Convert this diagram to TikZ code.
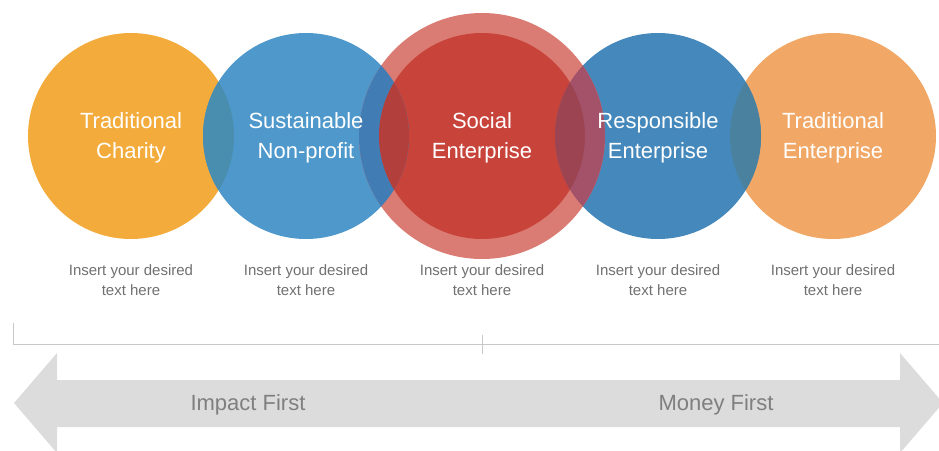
\documentclass[tikz,border=0pt]{standalone}
\usepackage{fontspec}
\setmainfont{Liberation Sans}
\definecolor{orangeA}{HTML}{F3AC3C}
\definecolor{blueA}{HTML}{4E98CB}
\definecolor{redcore}{HTML}{C8443B}
\definecolor{redring}{HTML}{DA7C74}
\definecolor{blueB}{HTML}{4488BC}
\definecolor{orangeB}{HTML}{F1A866}
\definecolor{lensOA}{HTML}{4A8EAF}
\definecolor{lensBAring}{HTML}{417DB4}
\definecolor{lensBAcore}{HTML}{B33F3D}
\definecolor{lensBBring}{HTML}{A4526A}
\definecolor{lensBBcore}{HTML}{9C4452}
\definecolor{lensOB}{HTML}{4A819F}
\definecolor{notegray}{HTML}{707070}
\definecolor{linegray}{HTML}{C8C8C8}
\definecolor{arrowgray}{HTML}{DCDCDC}
\definecolor{arrowtext}{HTML}{7F7F7F}
\begin{document}
\begin{tikzpicture}[x=1pt,y=-1pt,
  title/.style={text=white, align=center, font=\fontsize{22}{30}\selectfont},
  note/.style={text=notegray, align=center, font=\fontsize{15}{20}\selectfont},
  arrowlabel/.style={text=arrowtext, font=\fontsize{22}{26}\selectfont},
  bracketline/.style={draw=linegray, line width=1pt}]
\useasboundingbox (0,0) rectangle (939,450);
\clip (0,0) rectangle (939,450);
\def\rr{103pt}
\coordinate (c1) at (131,136);
\coordinate (c2) at (306,136);
\coordinate (c3) at (482,136);
\coordinate (c4) at (658,136);
\coordinate (c5) at (833,136);
% circles
\fill[orangeA] (c1) circle (\rr);
\fill[orangeB] (c5) circle (\rr);
\fill[blueA] (c2) circle (\rr);
\fill[blueB] (c4) circle (\rr);
\fill[redring] (c3) circle (123pt);
\fill[redcore] (c3) circle (\rr);
% overlaps
\begin{scope}\clip (c1) circle (\rr); \fill[lensOA] (c2) circle (\rr);\end{scope}
\begin{scope}\clip (c2) circle (\rr); \fill[lensBAring] (c3) circle (123pt); \fill[lensBAcore] (c3) circle (\rr);\end{scope}
\begin{scope}\clip (c4) circle (\rr); \fill[lensBBring] (c3) circle (123pt); \fill[lensBBcore] (c3) circle (\rr);\end{scope}
\begin{scope}\clip (c5) circle (\rr); \fill[lensOB] (c4) circle (\rr);\end{scope}
% titles
\node[title] (t1) at (131,138) {Traditional\\Charity};
\node[title] (t2) at (306,138) {Sustainable\\Non-profit};
\node[title] (t3) at (482,138) {Social\\Enterprise};
\node[title] (t4) at (658,138) {Responsible\\Enterprise};
\node[title] (t5) at (833,138) {Traditional\\Enterprise};
% notes
\node[note] (n1) at (131,280) {Insert your desired\\text here};
\node[note] (n2) at (306,280) {Insert your desired\\text here};
\node[note] (n3) at (482,280) {Insert your desired\\text here};
\node[note] (n4) at (658,280) {Insert your desired\\text here};
\node[note] (n5) at (833,280) {Insert your desired\\text here};
% bracket
\coordinate (bt) at (13,323);
\coordinate (bl) at (13,344);
\coordinate (br) at (945,344);
\coordinate (mt) at (482,335);
\coordinate (mb) at (482,354);
\draw[bracketline] (bt) -- (bl) -- (br);
\draw[bracketline] (mt) -- (mb);
% double arrow
\fill[arrowgray] (14,403) -- (57,353) -- (57,380) -- (900,380) -- (900,353) -- (943,403)
  -- (900,453) -- (900,427) -- (57,427) -- (57,453) -- cycle;
\node[arrowlabel] (impact) at (248,405) {Impact First};
\node[arrowlabel] (money) at (716,405) {Money First};
\end{tikzpicture}
\end{document}
